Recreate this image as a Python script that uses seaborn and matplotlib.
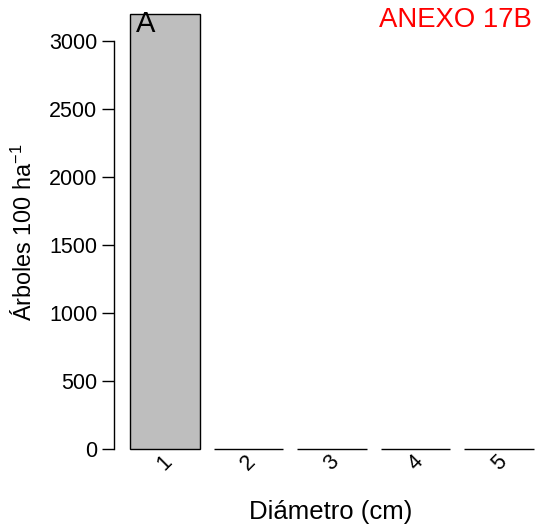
import matplotlib
matplotlib.use("Agg")
import matplotlib.pyplot as plt
import seaborn as sns
import pandas as pd

categories = ["1", "2", "3", "4", "5"]
values = [3200, 0, 0, 0, 0]
yticks = [0, 500, 1000, 1500, 2000, 2500, 3000]

sns.set_style("white")
plt.rcParams['font.family'] = ['Liberation Sans', 'DejaVu Sans']
plt.rcParams['mathtext.fontset'] = 'custom'
plt.rcParams['mathtext.rm'] = 'Liberation Sans'
plt.rcParams['mathtext.it'] = 'Liberation Sans'
plt.rcParams['text.color'] = 'black'
plt.rcParams['axes.labelcolor'] = 'black'
plt.rcParams['xtick.color'] = 'black'
plt.rcParams['ytick.color'] = 'black'

df = pd.DataFrame({"diam": categories, "n": values})

fig = plt.figure(figsize=(5.37, 5.30), dpi=100)
ax = fig.add_axes([114/537, 1 - 466/530, 423/537, 466/530])
sns.barplot(data=df, x="diam", y="n", ax=ax, color="#BEBEBE", saturation=1,
            edgecolor="black", linewidth=1, width=1/1.2)
ax.set_xlim(-0.611, 4.455)
ax.set_ylim(-125, 3301)

for s in ["top", "right", "bottom"]:
    ax.spines[s].set_visible(False)
ax.spines["left"].set_bounds(0, 3000)
ax.spines["left"].set_linewidth(1)
ax.spines["left"].set_color("black")
ax.set_yticks(yticks)
ax.set_yticklabels([str(v) for v in yticks], fontsize=15.5)
ax.tick_params(axis="y", direction="out", length=9, width=1, color="black", left=True, pad=3)
ax.tick_params(axis="x", length=0, pad=-10.5)
ax.set_xticks(range(len(categories)))
ax.set_xticklabels(categories, rotation=45, fontsize=15.5, ha="center")

ax.set_xlabel("Diámetro (cm)", fontsize=18.5, va="center")
ax.xaxis.set_label_coords((331 - 114) / 423, (466 - 512) / 466)
ax.set_ylabel(r"Árboles 100 ha$^{-1}$", fontsize=16.8, va="center")
ax.yaxis.set_label_coords((24 - 114) / 423, (466 - 232) / 466)

ax.text(-0.35, 3225, "A", fontsize=21, ha="left", va="top")
fig.text(532/537, 1 - 7/530, "ANEXO 17B", color="red", fontsize=19.8, ha="right", va="top")

fig.savefig("out.png", dpi=100)
